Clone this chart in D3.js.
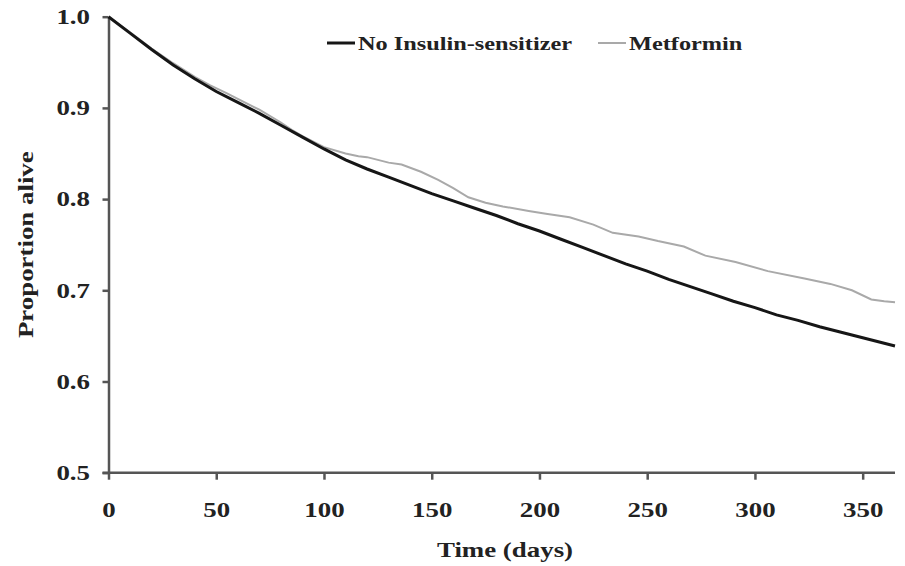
<!DOCTYPE html>
<html>
<head>
<meta charset="utf-8">
<script src="https://cdn.jsdelivr.net/npm/d3@7"></script>
<style>
  body { margin: 0; background: #fff; }
  text { font-family: "Liberation Serif", "Times New Roman", serif; font-weight: bold; fill: #222; }
</style>
</head>
<body>
<div id="chart"></div>
<script>
// Kaplan-Meier style survival
var days = [0, 10, 20, 30, 40, 50, 60, 70, 80, 90, 100, 110, 120, 130, 140, 150, 160, 170, 180, 190,
  200, 210, 220, 230, 240, 250, 260, 270, 280, 290, 300, 310, 320, 330, 340, 350, 360, 365]
var noSensitizer = [1.0, 0.982, 0.964, 0.947, 0.932, 0.918, 0.906, 0.894, 0.881, 0.868, 0.855, 0.843, 0.833,
  0.824, 0.815, 0.806, 0.798, 0.790, 0.782, 0.773, 0.765, 0.756, 0.747, 0.738, 0.729, 0.721, 0.712, 0.704,
  0.696, 0.688, 0.681, 0.673, 0.667, 0.660, 0.654, 0.648, 0.642, 0.639]

var metforminDays = [0, 10, 20, 30, 40, 47, 55, 60, 70, 80, 85, 90, 100, 110, 116, 120, 130, 136, 145, 153,
  160, 167, 175, 183, 195, 203, 214, 225, 234, 246, 255, 267, 277, 291, 306, 323, 335, 345, 354, 360, 365]
var metformin = [1.0, 0.983, 0.965, 0.949, 0.934, 0.925, 0.916, 0.910, 0.898, 0.884, 0.876, 0.869, 0.857,
  0.850, 0.847, 0.846, 0.840, 0.838, 0.830, 0.821, 0.812, 0.802, 0.796, 0.792, 0.787, 0.784, 0.780, 0.772,
  0.763, 0.759, 0.754, 0.748, 0.738, 0.731, 0.721, 0.713, 0.707, 0.700, 0.690, 0.688, 0.687]

var xTicks = [0, 50, 100, 150, 200, 250, 300, 350]
var yTicks = [0.5, 0.6, 0.7, 0.8, 0.9, 1.0]
var legendLabels = ['No Insulin-sensitizer', 'Metformin']

var width = 905, height = 566
var margin = { top: 16.7, right: 10, bottom: 93.3, left: 108.5 }
var innerW = width - margin.left - margin.right
var innerH = height - margin.top - margin.bottom
var sx = 1.28 // the original type is stretched sideways

var svg = d3.select('#chart').append('svg')
  .attr('width', width)
  .attr('height', height)

var g = svg.append('g')
  .attr('transform', 'translate(' + margin.left + ',' + margin.top + ')')

var x = d3.scaleLinear().domain([0, 365]).range([0, innerW])
var y = d3.scaleLinear().domain([0.5, 1.0]).range([innerH, 0])

// axes
var yAxis = d3.axisLeft(y).tickValues(yTicks).tickFormat(d3.format('.1f')).tickSize(6).tickSizeOuter(0)
var xAxis = d3.axisBottom(x).tickValues(xTicks).tickSize(7).tickSizeOuter(0)

var gx = g.append('g')
  .attr('transform', 'translate(0,' + innerH + ')')
  .call(xAxis)
gx.select('.domain').attr('d', 'M-6,0H' + innerW)
gx.selectAll('text')
  .attr('y', 44).attr('dy', null)
  .attr('font-size', 21)
  .attr('transform', 'scale(' + sx + ',1)')

var gy = g.append('g').call(yAxis)
gy.selectAll('text')
  .attr('x', -18.5 / sx)
  .attr('font-size', 21)
  .attr('transform', 'scale(' + sx + ',1)')

svg.selectAll('.domain, .tick line')
  .attr('stroke', '#555')
  .attr('stroke-width', 2.5)

// curves
var line = d3.line()
  .x(function(d) { return x(d[0]) })
  .y(function(d) { return y(d[1]) })

g.append('path')
  .datum(d3.zip(metforminDays, metformin))
  .attr('fill', 'none')
  .attr('stroke', '#a9a9a9')
  .attr('stroke-width', 2)
  .attr('d', line)

g.append('path')
  .datum(d3.zip(days, noSensitizer))
  .attr('fill', 'none')
  .attr('stroke', '#161616')
  .attr('stroke-width', 3)
  .attr('d', line)

// axis titles
svg.append('text')
  .attr('transform', 'translate(505,557) scale(' + sx + ',1)')
  .attr('text-anchor', 'middle')
  .attr('font-size', 21)
  .text('Time (days)')

svg.append('text')
  .attr('transform', 'translate(33,' + (margin.top + innerH / 2) + ') rotate(-90) scale(' + sx + ',1)')
  .attr('text-anchor', 'middle')
  .attr('font-size', 21)
  .text('Proportion alive')

// legend
var legend = svg.append('g').attr('transform', 'translate(327,43)')
var items = [
  { label: legendLabels[0], color: '#161616', w: 3, x0: 0 },
  { label: legendLabels[1], color: '#a9a9a9', w: 2, x0: 271 }
]
items.forEach(function(it) {
  legend.append('line')
    .attr('x1', it.x0).attr('x2', it.x0 + 28)
    .attr('y1', 0).attr('y2', 0)
    .attr('stroke', it.color).attr('stroke-width', it.w)
  legend.append('text')
    .attr('transform', 'translate(' + (it.x0 + 31) + ',7) scale(' + sx + ',1)')
    .attr('font-size', 19)
    .text(it.label)
})
</script>
</body>
</html>
